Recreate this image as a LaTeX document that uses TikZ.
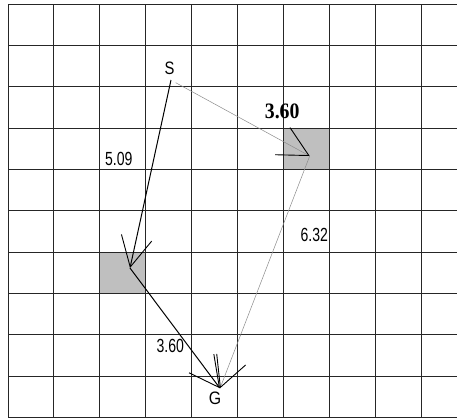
\documentclass[tikz,border=0pt]{standalone}
\usepackage{graphicx}
\usepackage{fontspec}
\setmainfont{Liberation Sans}
\newfontfamily\serifnum{Liberation Serif}
\usetikzlibrary{arrows.meta}
\begin{document}
\begin{tikzpicture}[x=1pt,y=-1pt,
  gridline/.style={line width=1pt,black!85},
  cellfill/.style={fill=black!25},
  lbl/.style={inner sep=0pt,font=\fontsize{18}{18}\selectfont},
  numlbl/.style={inner sep=0pt,font=\fontsize{19}{19}\selectfont},
  bignum/.style={inner sep=0pt,font=\serifnum\bfseries\fontsize{22}{22}\selectfont},
  barb/.style={-{Straight Barb[length=30pt,width=31pt,color=black,line width=0.9pt]}},
  mainpath/.style={line width=1pt,black,barb},
  altpath/.style={line width=0.5pt,black!45,barb}]

\useasboundingbox (0,0) rectangle (457,418);
\fill[white] (0,0) rectangle (457,418);

% shaded cells
\fill[cellfill] (283.4,128.2) rectangle (329.3,169.5);
\fill[cellfill] (99.8,252.1) rectangle (145.7,293.4);

% grid
\foreach \i in {0,...,9} \draw[gridline] ({8+45.9*\i},4.3) -- ({8+45.9*\i},417.3);
\foreach \j in {0,...,10} \draw[gridline] (8,{4.3+41.3*\j}) -- (457,{4.3+41.3*\j});

% labels
\node[lbl] (Slbl) at (169.5,68.5) {\scalebox{0.82}[1]{S}};
\node[lbl] (Glbl) at (215,398.5) {\scalebox{0.88}[1]{G}};

% path points
\coordinate (S1) at (171,80);
\coordinate (S2) at (175.7,82.7);
\coordinate (A1) at (130,268);
\coordinate (A2) at (309.7,156);
\coordinate (G) at (220,388.3);

\draw[altpath] (S2) -- (A2);
\draw[altpath] (A2) -- (G);
\draw[mainpath] (S1) -- (A1);
\draw[mainpath] (A1) -- (G);

% distance labels
\node[numlbl] (d1) at (118.8,158.7) {\scalebox{0.74}[1]{5.09}};
\node[numlbl] (d2) at (314.3,234.7) {\scalebox{0.74}[1]{6.32}};
\node[numlbl] (d3) at (170.3,346.3) {\scalebox{0.74}[1]{3.60}};
\node[bignum] (d4) at (282.2,111.7) {\scalebox{0.9}[1]{3.60}};
\end{tikzpicture}
\end{document}
